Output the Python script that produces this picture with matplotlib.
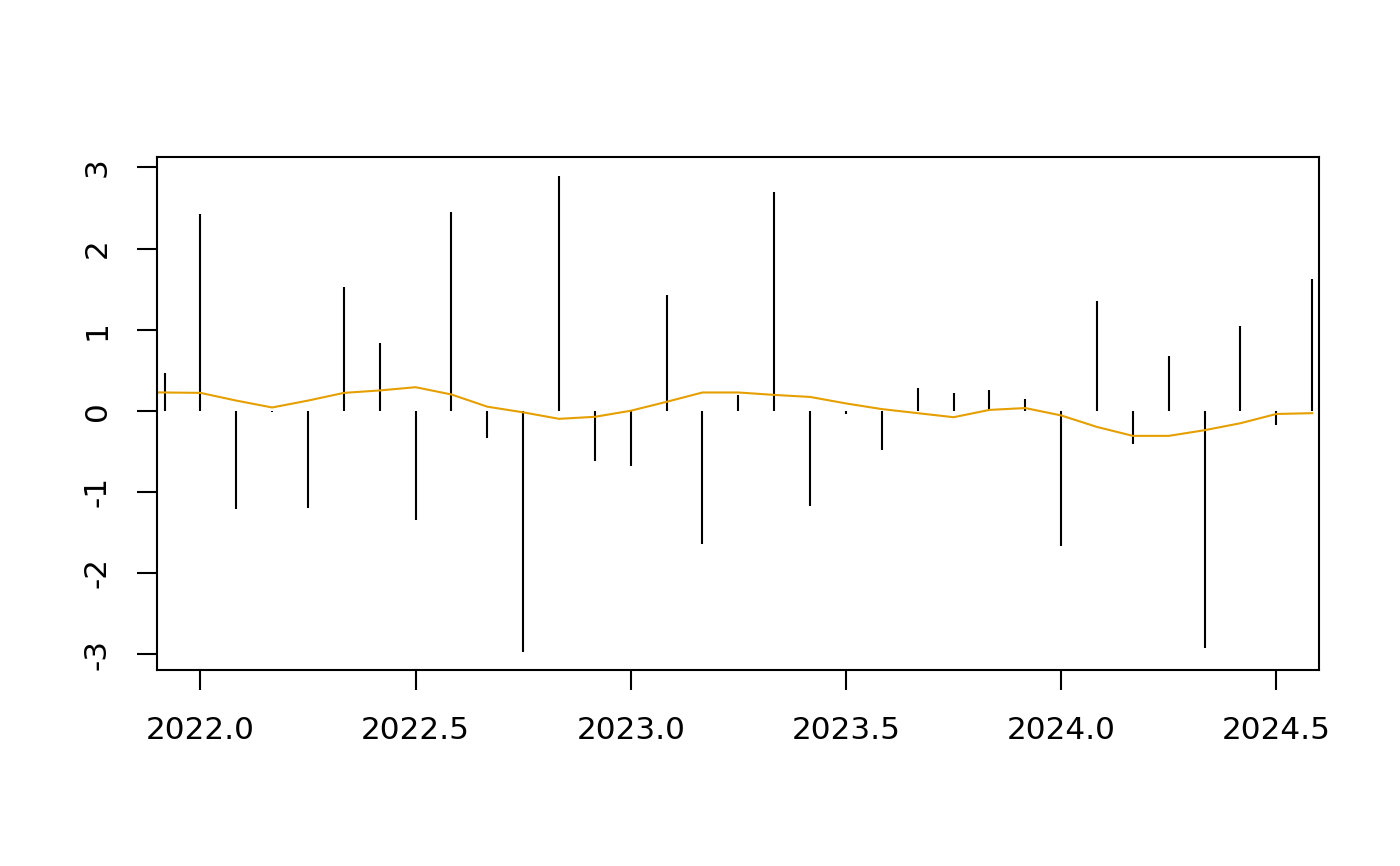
import matplotlib
matplotlib.use("Agg")
import matplotlib.pyplot as plt

months = ["2021-12",
          "2022-01", "2022-02", "2022-03", "2022-04", "2022-05", "2022-06",
          "2022-07", "2022-08", "2022-09", "2022-10", "2022-11", "2022-12",
          "2023-01", "2023-02", "2023-03", "2023-04", "2023-05", "2023-06",
          "2023-07", "2023-08", "2023-09", "2023-10", "2023-11", "2023-12",
          "2024-01", "2024-02", "2024-03", "2024-04", "2024-05", "2024-06",
          "2024-07", "2024-08"]
values = [0.46, 2.42, -1.21, -0.02, -1.20, 1.53, 0.83, -1.35, 2.45, -0.34,
          -2.97, 2.90, -0.62, -0.68, 1.425, -1.64, 0.20, 2.70, -1.17, -0.04,
          -0.48, 0.275, 0.22, 0.26, 0.15, -1.67, 1.35, -0.41, 0.675, -2.92,
          1.04, -0.175, 1.63]

trend_months = ["2021-11"] + months
trend = [0.23, 0.225, 0.22, 0.125, 0.04, 0.125, 0.22, 0.25, 0.29, 0.20, 0.05,
         -0.02, -0.10, -0.075, 0.0, 0.11, 0.225, 0.225, 0.195, 0.17, 0.09,
         0.02, -0.03, -0.08, 0.01, 0.033, -0.058, -0.2, -0.31, -0.31, -0.24,
         -0.154, -0.04, -0.03]

xticks = [2022.0, 2022.5, 2023.0, 2023.5, 2024.0, 2024.5]
xticklabels = ["2022.0", "2022.5", "2023.0", "2023.5", "2024.0", "2024.5"]
yticks = [-3, -2, -1, 0, 1, 2, 3]


def to_decimal(m):
    y, mo = m.split("-")
    return int(y) + (int(mo) - 1) / 12.0


x = [to_decimal(m) for m in months]
xt = [to_decimal(m) for m in trend_months]

plt.rcParams["font.family"] = ["DejaVu Sans"]
fig = plt.figure(figsize=(14, 8.66), dpi=100)
ax = fig.add_axes([0.1124, 0.2263, 0.9424 - 0.1124, 0.8184 - 0.2263])

ax.vlines(x, 0, values, colors="black", linewidth=1.5)
ax.plot(xt, trend, color="#E69F00", linewidth=1.5)

ax.set_xlim(2021.9, 2024.6)
ax.set_ylim(-3.197, 3.125)
ax.set_xticks(xticks)
ax.set_xticklabels(xticklabels)
ax.set_yticks(yticks)
ax.set_yticklabels([str(v) for v in yticks], rotation=90, va="center")

for s in ax.spines.values():
    s.set_linewidth(1.5)
    s.set_color("black")
ax.tick_params(axis="both", length=14.4, width=1.5, pad=18.5,
               labelsize=22.4, colors="black")

fig.savefig("out.png", dpi=100)
